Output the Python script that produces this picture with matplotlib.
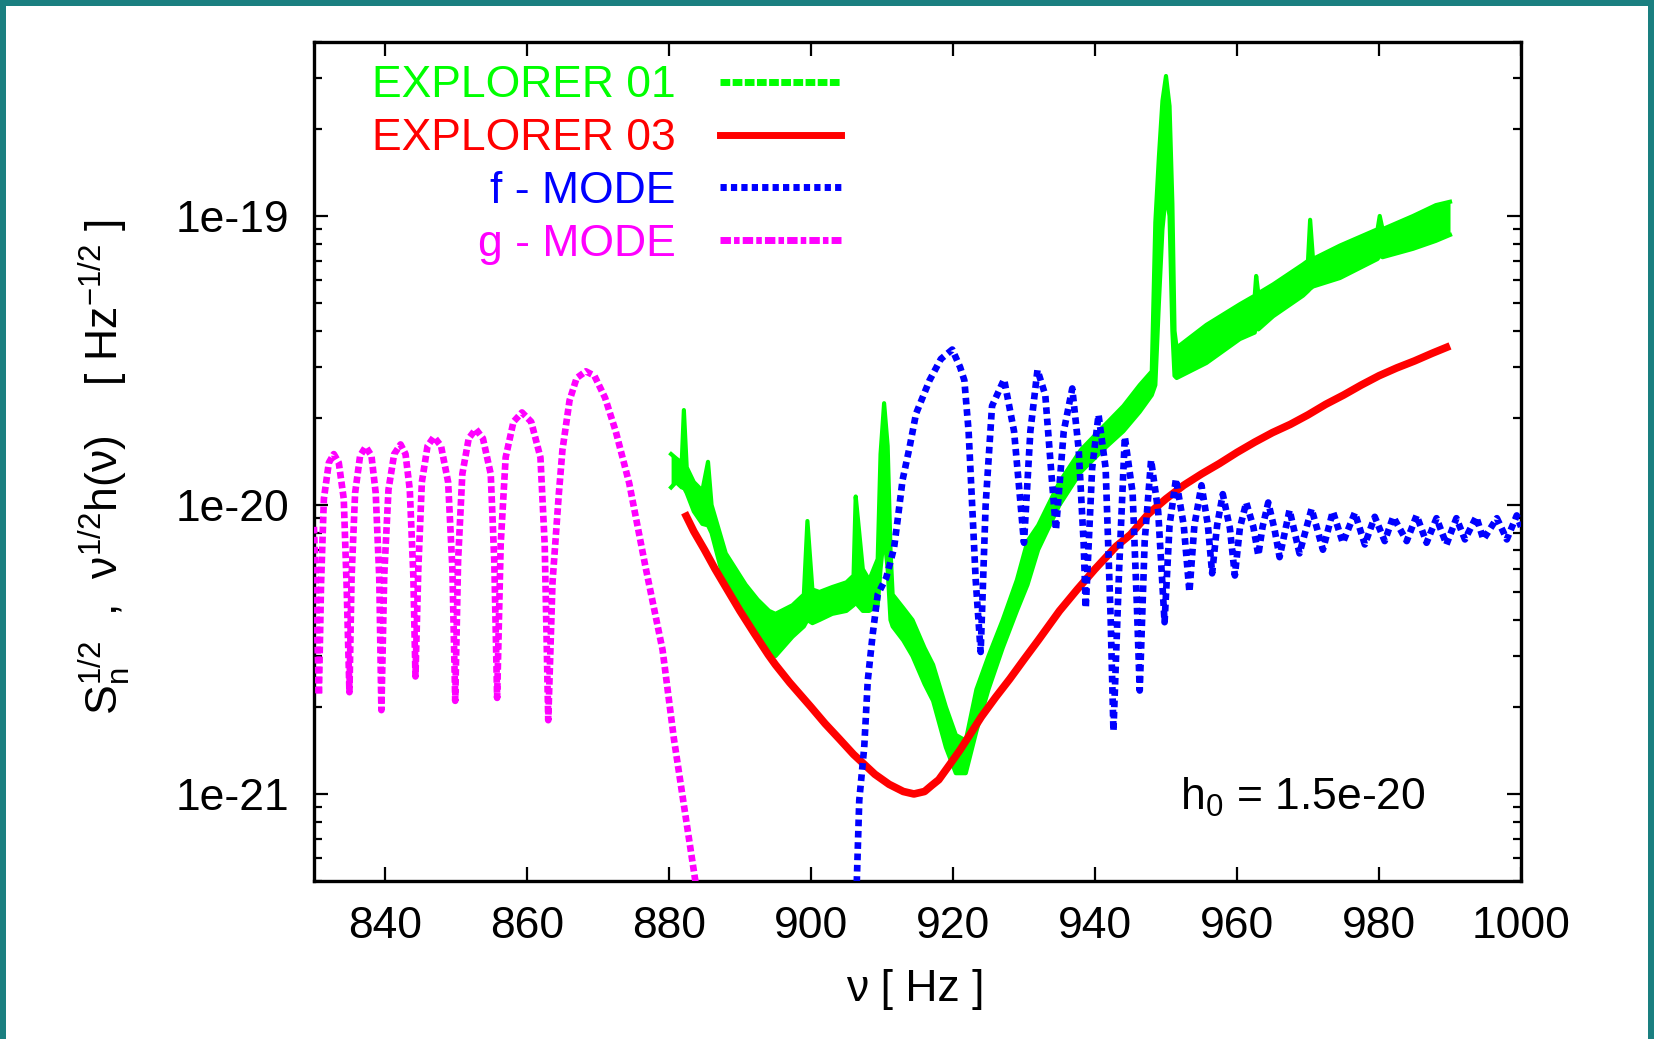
import matplotlib
matplotlib.use("Agg")
import matplotlib.pyplot as plt
from matplotlib.lines import Line2D
from matplotlib.patches import Rectangle
from matplotlib.ticker import FixedLocator, FixedFormatter, LogLocator, NullFormatter

plt.rcParams['font.family'] = ['Liberation Sans', 'DejaVu Sans']
plt.rcParams['mathtext.fontset'] = 'custom'
plt.rcParams['mathtext.rm'] = 'Liberation Sans'
plt.rcParams['mathtext.it'] = 'Liberation Sans'
plt.rcParams['mathtext.bf'] = 'Liberation Sans:bold'

# ---------------- data ----------------
series_labels = ["EXPLORER 01", "EXPLORER 03", "f - MODE", "g - MODE"]

# EXPLORER 01: noisy band -> lower / upper envelope
expl01_nu = [880.3, 881.0, 881.8, 882.1, 882.5, 883.5, 884.7, 885.5, 886.0, 888.0,
             890.8, 892.5, 894.1, 895.0, 897.4, 899.0, 899.5, 900.2, 901.2, 903.0,
             905.0, 906.0, 906.3, 906.6, 907.3, 908.2, 909.4, 909.8, 910.3, 910.8,
             911.2, 911.5, 913.0, 914.3, 916.0, 917.2, 919.0, 920.4, 921.8, 923.3,
             925.0, 927.0, 929.0, 930.5, 932.0, 935.0, 938.0, 941.1, 944.0, 946.3,
             948.0, 948.5, 949.0, 949.5, 950.0, 950.5, 950.9, 951.2, 951.5, 955.7,
             960.4, 962.5, 962.7, 963.0, 965.1, 969.3, 970.0, 970.3, 970.7, 974.5,
             979.8, 980.1, 980.5, 984.8, 988.0, 990.0]
expl01_lo = [1.15e-20, 1.2e-20, 1.15e-20, 1.15e-20, 1.1e-20, 9.5e-21, 8.6e-21, 8.5e-21, 8.0e-21, 5.2e-21,
             4.0e-21, 3.5e-21, 3.2e-21, 3.0e-21, 3.5e-21, 3.8e-21, 4.0e-21, 3.9e-21, 4.0e-21, 4.2e-21,
             4.3e-21, 4.5e-21, 4.6e-21, 4.5e-21, 4.3e-21, 4.3e-21, 4.5e-21, 6.0e-21, 8.0e-21, 6.0e-21,
             4.0e-21, 3.8e-21, 3.4e-21, 3.0e-21, 2.4e-21, 2.1e-21, 1.45e-21, 1.18e-21, 1.18e-21, 1.65e-21,
             2.3e-21, 3.2e-21, 4.3e-21, 5.3e-21, 7.0e-21, 1.0e-20, 1.3e-20, 1.55e-20, 1.8e-20, 2.1e-20,
             2.4e-20, 2.6e-20, 5.0e-20, 9.0e-20, 1.2e-19, 1.0e-19, 4.0e-20, 2.8e-20, 2.75e-20, 3.1e-20,
             3.75e-20, 3.95e-20, 4.2e-20, 4.05e-20, 4.5e-20, 5.3e-20, 5.5e-20, 5.6e-20, 5.7e-20, 6.1e-20,
             7.1e-20, 7.3e-20, 7.2e-20, 7.7e-20, 8.2e-20, 8.6e-20]
expl01_hi = [1.5e-20, 1.45e-20, 1.4e-20, 2.13e-20, 1.35e-20, 1.2e-20, 1.12e-20, 1.41e-20, 1.0e-20, 6.8e-21,
             5.3e-21, 4.7e-21, 4.3e-21, 4.2e-21, 4.5e-21, 4.9e-21, 8.8e-21, 5.1e-21, 5.0e-21, 5.2e-21,
             5.4e-21, 5.7e-21, 1.07e-20, 9.0e-21, 6.0e-21, 5.5e-21, 6.5e-21, 1.5e-20, 2.25e-20, 1.6e-20,
             7.0e-21, 4.9e-21, 4.4e-21, 4.0e-21, 3.2e-21, 2.8e-21, 2.0e-21, 1.6e-21, 1.53e-21, 2.3e-21,
             3.0e-21, 4.0e-21, 5.5e-21, 7.5e-21, 8.5e-21, 1.2e-20, 1.55e-20, 1.86e-20, 2.2e-20, 2.6e-20,
             2.9e-20, 9.5e-20, 1.6e-19, 2.5e-19, 3.05e-19, 2.4e-19, 1.1e-19, 4.0e-20, 3.5e-20, 4.2e-20,
             4.95e-20, 5.3e-20, 6.2e-20, 5.4e-20, 5.8e-20, 6.8e-20, 7.0e-20, 9.7e-20, 7.1e-20, 7.9e-20,
             9.0e-20, 1.0e-19, 9.0e-20, 1.0e-19, 1.09e-19, 1.12e-19]

# EXPLORER 03: smooth curve
expl03_nu = [882.2, 883.5, 885.0, 886.5, 888.0, 890.0, 892.0, 894.0, 895.0, 897.0,
             900.0, 902.0, 904.0, 906.0, 907.0, 909.0, 911.0, 913.0, 914.5, 916.0,
             917.0, 918.0, 919.5, 921.0, 922.5, 924.0, 926.0, 928.0, 930.0, 932.0,
             935.0, 937.5, 940.0, 943.0, 945.0, 947.5, 950.0, 952.5, 955.0, 957.5,
             960.0, 962.5, 965.0, 967.5, 970.0, 972.5, 975.0, 977.5, 980.0, 982.5,
             985.0, 987.5, 990.0]
expl03_val = [9.4e-21, 8.1e-21, 7.0e-21, 6.0e-21, 5.2e-21, 4.3e-21, 3.6e-21, 3.03e-21, 2.8e-21, 2.43e-21,
              2.0e-21, 1.75e-21, 1.55e-21, 1.37e-21, 1.3e-21, 1.17e-21, 1.08e-21, 1.02e-21, 1.0e-21, 1.02e-21,
              1.07e-21, 1.12e-21, 1.26e-21, 1.42e-21, 1.62e-21, 1.85e-21, 2.16e-21, 2.5e-21, 2.92e-21, 3.4e-21,
              4.3e-21, 5.1e-21, 6.0e-21, 7.2e-21, 7.9e-21, 9.3e-21, 1.05e-20, 1.17e-20, 1.28e-20, 1.39e-20,
              1.52e-20, 1.65e-20, 1.78e-20, 1.9e-20, 2.05e-20, 2.23e-20, 2.4e-20, 2.6e-20, 2.8e-20, 2.98e-20,
              3.15e-20, 3.35e-20, 3.55e-20]

# f - MODE
fmode_nu = [906.4, 906.8, 907.5, 908.0, 908.7, 909.4, 910.6, 911.7, 912.2, 912.9,
            913.9, 914.8, 916.7, 918.3, 919.9, 921.0, 921.6, 922.2, 922.7, 923.2,
            923.9, 924.6, 925.5, 927.2, 928.6, 929.3, 930.0, 930.9, 931.9, 933.0,
            933.8, 934.5, 935.6, 936.8, 937.7, 938.4, 938.7, 939.6, 940.5, 941.5,
            942.2, 942.6, 943.4, 944.2, 945.3, 945.9, 946.3, 947.0, 947.9, 948.9,
            949.8, 950.5, 951.4, 952.5, 953.3, 954.0, 955.0, 955.9, 956.5, 957.2,
            958.0, 959.0, 959.7, 960.4, 961.3, 962.3, 963.0, 963.6, 964.4, 965.3,
            966.0, 967.4, 968.8, 970.5, 972.1, 973.5, 974.9, 976.6, 978.0, 979.4,
            980.8, 982.0, 983.9, 985.3, 986.7, 988.1, 989.5, 990.9, 992.1, 993.7,
            994.7, 996.6, 998.0, 999.4, 1000.0]
fmode_val = [4.5e-22, 9.5e-22, 1.45e-21, 2.47e-21, 3.58e-21, 4.9e-21, 5.6e-21, 7.1e-21, 8.85e-21, 1.22e-20,
             1.59e-20, 2.07e-20, 2.7e-20, 3.2e-20, 3.45e-20, 3.0e-20, 2.7e-20, 1.8e-20, 1.0e-20, 5.5e-21,
             3.1e-21, 1.0e-20, 2.2e-20, 2.72e-20, 1.8e-20, 1.16e-20, 7.4e-21, 1.8e-20, 2.93e-20, 2.4e-20,
             1.34e-20, 8.2e-21, 1.8e-20, 2.53e-20, 1.56e-20, 7.4e-21, 4.4e-21, 1.34e-20, 2.05e-20, 1.34e-20,
             4.1e-21, 1.65e-21, 6.0e-21, 1.72e-20, 1.1e-20, 4.5e-21, 2.28e-21, 7.5e-21, 1.43e-20, 9.5e-21,
             3.93e-21, 8.5e-21, 1.23e-20, 8.5e-21, 5.0e-21, 8.5e-21, 1.17e-20, 8.5e-21, 5.8e-21, 8.5e-21,
             1.09e-20, 8.3e-21, 5.7e-21, 8.3e-21, 1.02e-20, 8.4e-21, 6.7e-21, 8.4e-21, 1.02e-20, 8.2e-21,
             6.6e-21, 9.6e-21, 6.8e-21, 9.7e-21, 7.0e-21, 9.5e-21, 7.4e-21, 9.4e-21, 7.3e-21, 9.1e-21,
             7.5e-21, 9.1e-21, 7.5e-21, 9.2e-21, 7.4e-21, 9.0e-21, 7.3e-21, 9.0e-21, 7.6e-21, 9.1e-21,
             7.6e-21, 9.0e-21, 7.6e-21, 9.2e-21, 8.4e-21]

# g - MODE
gmode_nu = [830.0, 830.3, 830.7, 831.0, 831.4, 832.1, 832.8, 833.5, 834.2, 834.6,
            835.0, 835.3, 835.8, 836.5, 837.3, 838.1, 838.7, 839.2, 839.5, 839.9,
            840.5, 841.3, 842.2, 842.9, 843.5, 844.0, 844.3, 844.7, 845.2, 846.0,
            846.9, 847.9, 848.9, 849.5, 849.9, 850.3, 850.9, 851.8, 852.8, 853.8,
            854.9, 855.4, 855.8, 856.3, 857.0, 858.1, 859.3, 860.6, 861.9, 862.5,
            863.0, 863.6, 864.5, 865.0, 866.0, 867.0, 868.3, 869.5, 871.0, 872.5,
            874.4, 876.7, 879.1, 880.7, 882.3, 884.0]
gmode_val = [8.4e-21, 5.0e-21, 2.2e-21, 5.3e-21, 1.05e-20, 1.4e-20, 1.5e-20, 1.4e-20, 1.05e-20, 5.3e-21,
             2.25e-21, 5.6e-21, 1.1e-20, 1.48e-20, 1.59e-20, 1.48e-20, 1.1e-20, 5.6e-21, 1.95e-21, 5.7e-21,
             1.13e-20, 1.5e-20, 1.62e-20, 1.5e-20, 1.13e-20, 5.7e-21, 2.55e-21, 6.0e-21, 1.2e-20, 1.6e-20,
             1.72e-20, 1.6e-20, 1.2e-20, 6.0e-21, 2.1e-21, 6.4e-21, 1.28e-20, 1.7e-20, 1.83e-20, 1.7e-20,
             1.28e-20, 6.4e-21, 2.15e-21, 7.3e-21, 1.46e-20, 1.94e-20, 2.09e-20, 1.94e-20, 1.46e-20, 7.3e-21,
             1.8e-21, 5.4e-21, 1.1e-20, 1.55e-20, 2.3e-20, 2.75e-20, 2.9e-20, 2.8e-20, 2.35e-20, 1.8e-20,
             1.19e-20, 6.1e-21, 3.15e-21, 1.55e-21, 8.5e-22, 4.5e-22]

x_ticks = [840, 860, 880, 900, 920, 940, 960, 980, 1000]
x_ticklabels = ["840", "860", "880", "900", "920", "940", "960", "980", "1000"]
y_ticks = [1e-21, 1e-20, 1e-19]
y_ticklabels = ["1e-21", "1e-20", "1e-19"]

# ---------------- styling ----------------
c_green = "#00ff00"
c_red = "#ff0000"
c_blue = "#0000ff"
c_mag = "#ff00ff"
teal = "#1a7f80"
FS = 32

fig = plt.figure(figsize=(16.54, 10.39), dpi=100)
ax = fig.add_axes([0.1898, 0.1521, 0.7298, 0.8075])
ax.set_yscale("log")
ax.set_xlim(830, 1000)
ax.set_ylim(5e-22, 4e-19)

# EXPLORER 01 band
ax.fill_between(expl01_nu, expl01_lo, expl01_hi, color=c_green, lw=0, zorder=2)
ax.plot(expl01_nu, expl01_lo, color=c_green, lw=3, zorder=2)
ax.plot(expl01_nu, expl01_hi, color=c_green, lw=3, zorder=2)

# EXPLORER 03
ax.plot(expl03_nu, expl03_val, color=c_red, lw=5.5, solid_capstyle="butt",
        solid_joinstyle="round", zorder=3)

# f - MODE
ax.plot(fmode_nu, fmode_val, color=c_blue, lw=4.8, linestyle=(0, (1.0, 0.7)),
        dash_capstyle="butt", zorder=4)

# g - MODE
ax.plot(gmode_nu, gmode_val, color=c_mag, lw=4.8, linestyle=(0, (1.0, 0.5)),
        dash_capstyle="butt", zorder=5)

# axes / ticks
ax.xaxis.set_major_locator(FixedLocator(x_ticks))
ax.xaxis.set_major_formatter(FixedFormatter(x_ticklabels))
ax.yaxis.set_major_locator(FixedLocator(y_ticks))
ax.yaxis.set_major_formatter(FixedFormatter(y_ticklabels))
ax.yaxis.set_minor_locator(LogLocator(base=10, subs=[2, 3, 4, 5, 6, 7, 8, 9]))
ax.yaxis.set_minor_formatter(NullFormatter())
ax.tick_params(which="both", direction="in", top=True, right=True, width=1.6, color="black")
ax.tick_params(which="major", length=10, labelsize=FS)
ax.tick_params(which="minor", length=5.5)
ax.tick_params(axis="x", pad=18)
ax.tick_params(axis="y", pad=18)
for s in ax.spines.values():
    s.set_linewidth(2.4)

# legend (text left, sample right)
handles = [
    Line2D([], [], color=c_green, lw=5, linestyle=(0, (1.4, 0.35)), dash_capstyle="butt"),
    Line2D([], [], color=c_red, lw=5),
    Line2D([], [], color=c_blue, lw=5, linestyle=(0, (0.9, 0.6)), dash_capstyle="butt"),
    Line2D([], [], color=c_mag, lw=5, linestyle=(0, (1.5, 0.45, 0.8, 0.45)), dash_capstyle="butt"),
]
leg = ax.legend(handles, series_labels, loc="upper right", bbox_to_anchor=(0.4366, 0.972),
                frameon=False, markerfirst=False, fontsize=FS, handlelength=2.72,
                handletextpad=1.0, labelspacing=0.265, borderpad=0, borderaxespad=0)
for t, c in zip(leg.get_texts(), [c_green, c_red, c_blue, c_mag]):
    t.set_color(c)

# annotation
ax.text(0.7176, 0.0846, r"h$_\mathregular{0}$ = 1.5e-20", transform=ax.transAxes,
        fontsize=FS, ha="left", va="baseline")

# axis labels
fig.text(915.6 / 1654, 1 - 990 / 1039, "ν [ Hz ]", ha="center", va="center", fontsize=FS)
fig.text(105 / 1654, 1 - 467 / 1039,
         r"$\mathregular{S_n^{1/2}}$  ,  $\mathregular{\nu^{1/2}}$h(ν)    [ Hz$\mathregular{^{-1/2}}$ ]",
         rotation=90, ha="center", va="center", fontsize=FS)

# teal frame
fig.add_artist(Rectangle((0, 0), 6 / 1654, 1, transform=fig.transFigure, color=teal, lw=0))
fig.add_artist(Rectangle((1 - 6 / 1654, 0), 6 / 1654, 1, transform=fig.transFigure, color=teal, lw=0))
fig.add_artist(Rectangle((0, 1 - 6 / 1039), 1, 6 / 1039, transform=fig.transFigure, color=teal, lw=0))

fig.savefig("out.png", dpi=100)
